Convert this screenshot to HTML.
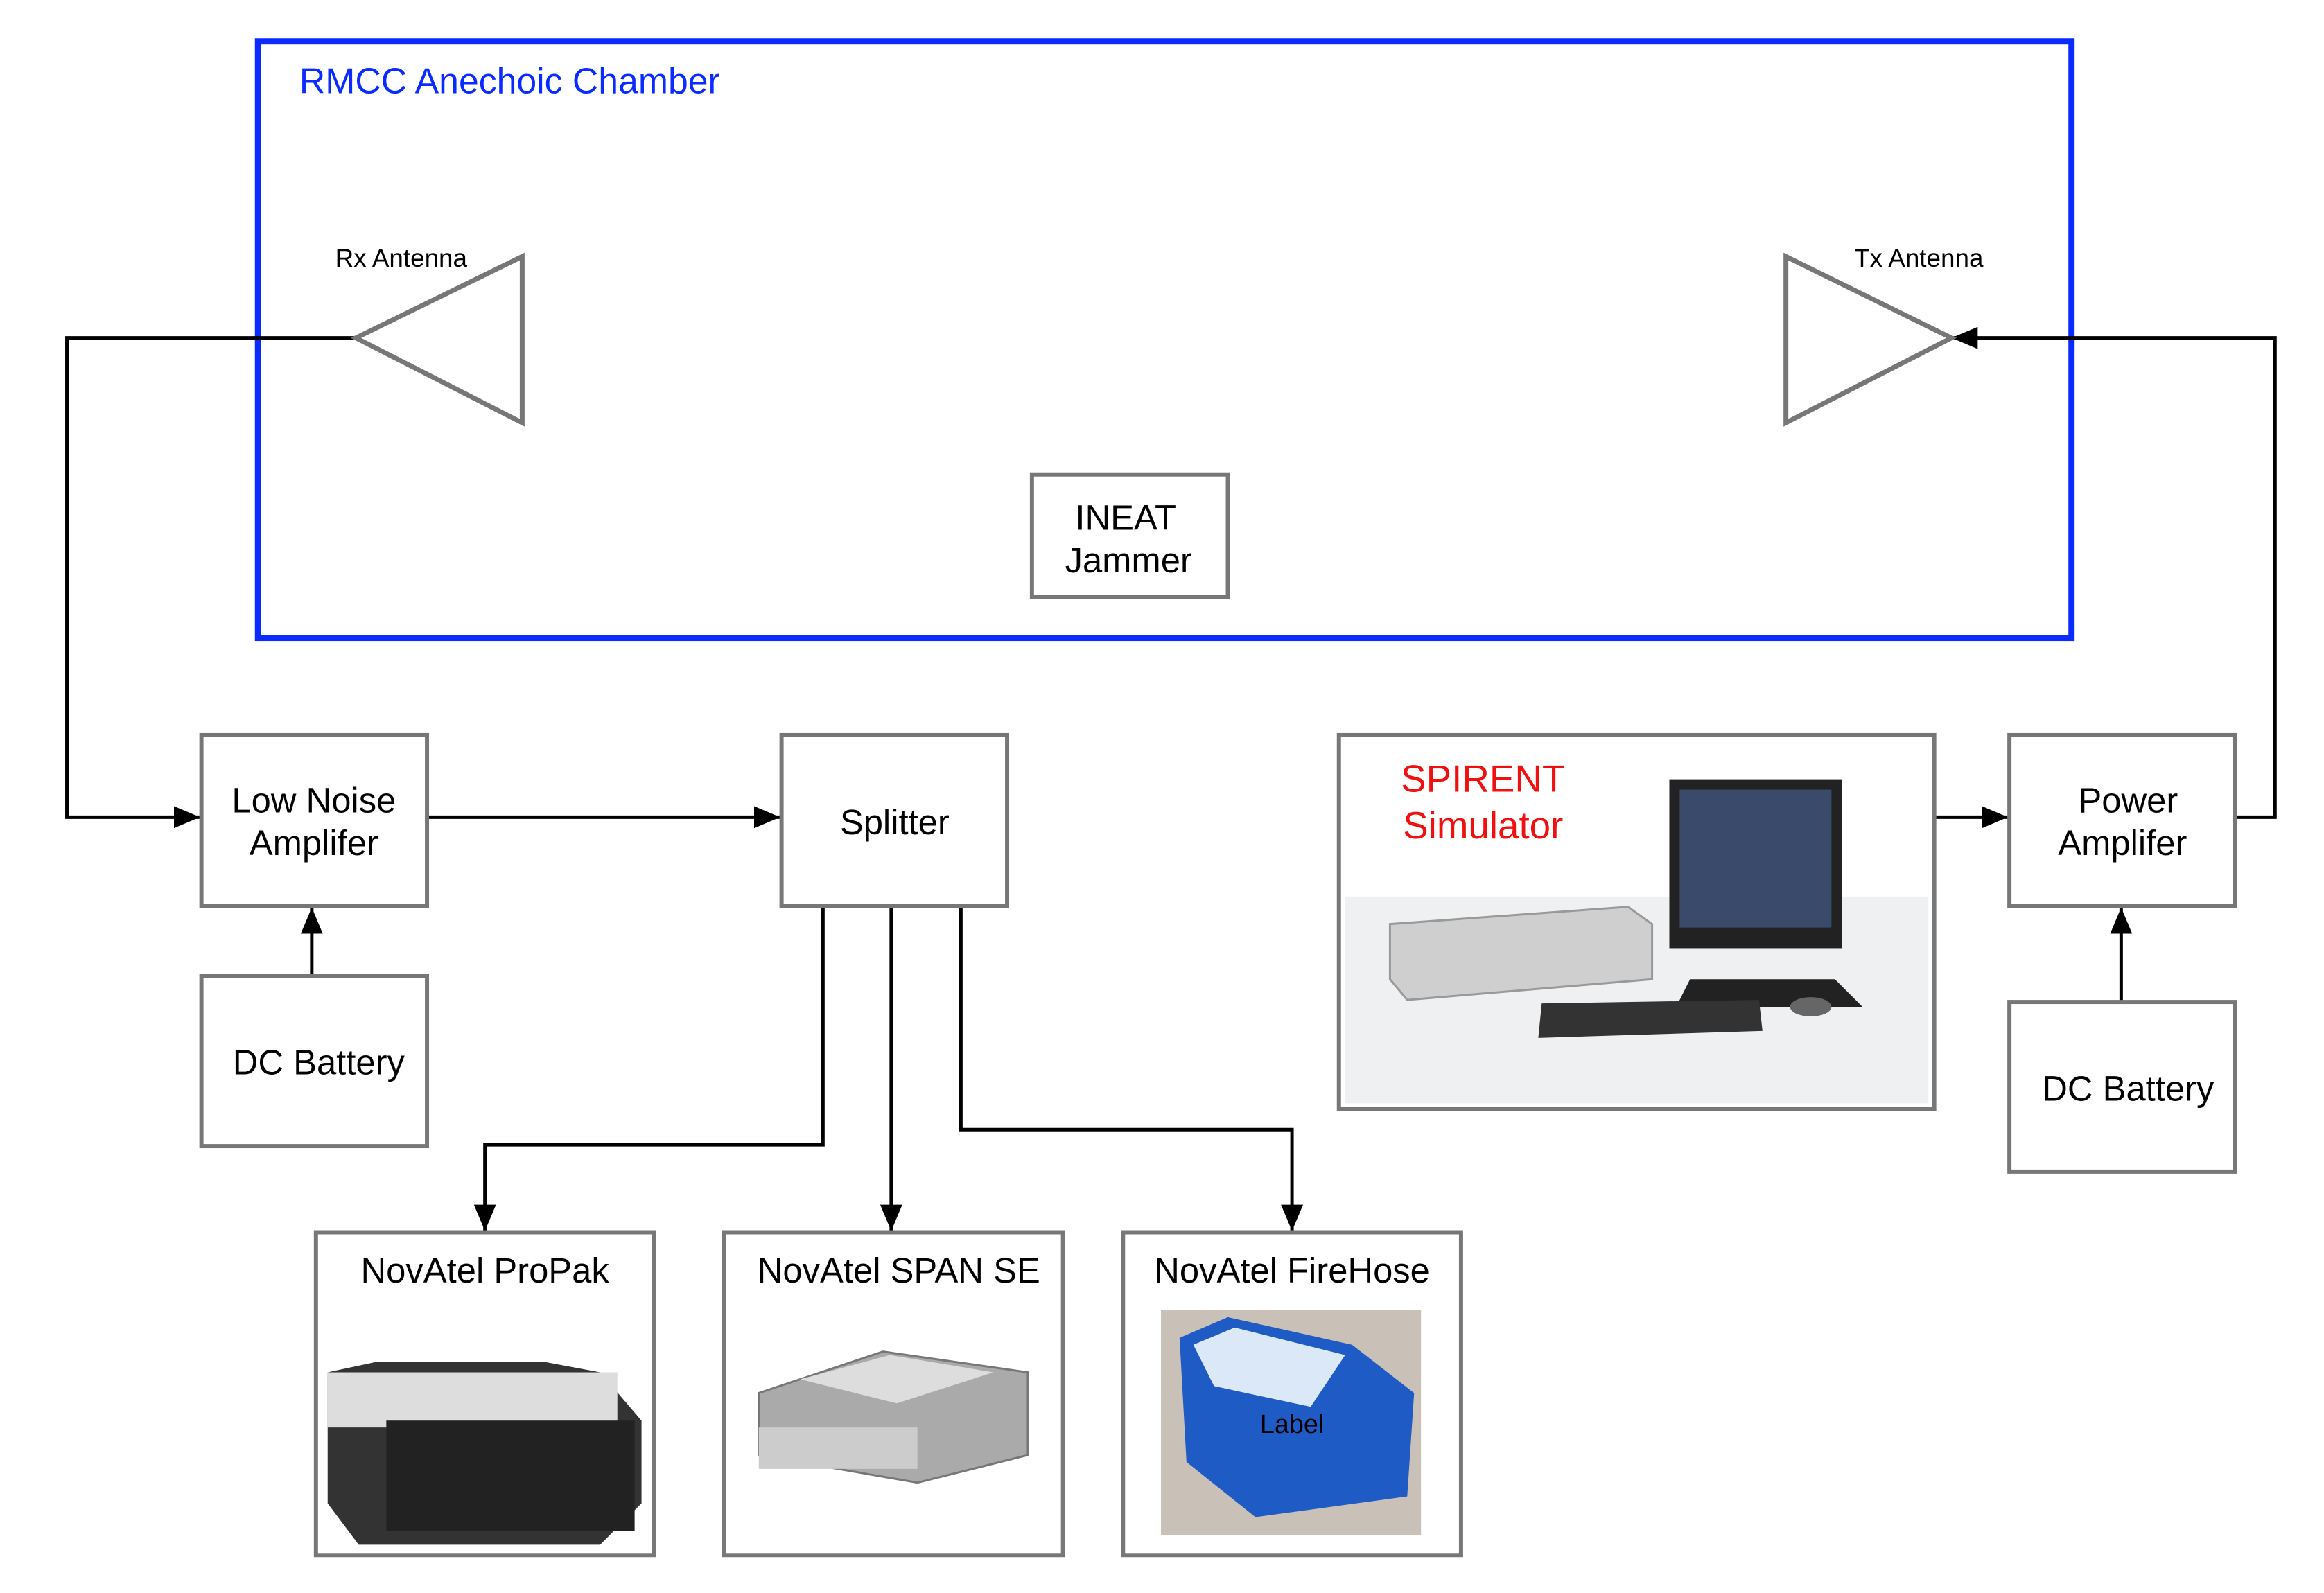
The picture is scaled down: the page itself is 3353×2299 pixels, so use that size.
<!DOCTYPE html>
<html><head><meta charset="utf-8"><style>body{margin:0;background:#fff}svg{display:block}</style></head>
<body>
<svg width="3353" height="2299" viewBox="0 0 3369 2310" preserveAspectRatio="xMinYMin meet" xmlns="http://www.w3.org/2000/svg" font-family="Liberation Sans, sans-serif">
<defs>
<marker id="b" markerWidth="38" markerHeight="32" refX="38" refY="16" orient="auto" markerUnits="userSpaceOnUse"><path d="M0,0 L38,16 L0,32 z" fill="#000"/></marker>
</defs>
<rect x="374" y="60" width="2629" height="865" fill="none" stroke="#0a2bff" stroke-width="9"/>
<text x="434" y="135" font-size="52" fill="#0a2bff">RMCC Anechoic Chamber</text>
<g fill="none" stroke="#000" stroke-width="5">
<polyline points="516,490 97,490 97,1185 290,1185" marker-end="url(#b)"/>
<polyline points="619,1185 1131,1185" marker-end="url(#b)"/>
<polyline points="452,1415 452,1316" marker-end="url(#b)"/>
<polyline points="2804,1185 2911,1185" marker-end="url(#b)"/>
<polyline points="3240,1185 3298,1185 3298,490 2829,490" marker-end="url(#b)"/>
<polyline points="3075,1453 3075,1316" marker-end="url(#b)"/>
<polyline points="1193,1314 1193,1660 703,1660 703,1785" marker-end="url(#b)"/>
<polyline points="1292,1314 1292,1785" marker-end="url(#b)"/>
<polyline points="1393,1314 1393,1638 1873,1638 1873,1785" marker-end="url(#b)"/>
</g>
<g fill="#fff" stroke="#777" stroke-width="7">
<polygon points="516,490 757,372 757,613"/>
<polygon points="2589,372 2589,613 2829,490"/>
</g>
<text x="486" y="387" font-size="37">Rx Antenna</text>
<text x="2688" y="387" font-size="37">Tx Antenna</text>
<g fill="#fff" stroke="#777" stroke-width="6">
<rect x="1496" y="688" width="284" height="178"/>
<rect x="292" y="1066" width="327" height="248"/>
<rect x="1133" y="1066" width="327" height="248"/>
<rect x="292" y="1415" width="327" height="247"/>
<rect x="1941" y="1066" width="863" height="542"/>
<rect x="2913" y="1066" width="327" height="248"/>
<rect x="2913" y="1453" width="327" height="246"/>
<rect x="458" y="1787" width="490" height="468"/>
<rect x="1049" y="1787" width="492" height="468"/>
<rect x="1628" y="1787" width="490" height="468"/>
</g>
<g font-size="51" text-anchor="middle" fill="#000">
<text x="1632" y="768">INEAT</text><text x="1636" y="830">Jammer</text>
<text x="455" y="1178">Low Noise</text><text x="455" y="1240">Amplifer</text>
<text x="1297" y="1210">Splitter</text>
<text x="462" y="1558">DC Battery</text>
<text x="3085" y="1178">Power</text><text x="3077" y="1240">Amplifer</text>
<text x="3085" y="1596">DC Battery</text>
<text x="703" y="1860">NovAtel ProPak</text>
<text x="1303" y="1860">NovAtel SPAN SE</text>
<text x="1873" y="1860">NovAtel FireHose</text>
</g>
<g font-size="55" text-anchor="middle" fill="#f01010">
<text x="2150" y="1148">SPIRENT</text><text x="2150" y="1216">Simulator</text>
</g>
<rect x="1950" y="1300" width="845" height="300" fill="#eef0f2"/>
<polygon points="2015,1340 2360,1315 2395,1340 2395,1420 2040,1450 2015,1420" fill="#cfcfcf" stroke="#999" stroke-width="3"/>
<rect x="2420" y="1130" width="250" height="245" fill="#222"/>
<rect x="2435" y="1145" width="220" height="200" fill="#3a4a6a"/>
<polygon points="2450,1420 2660,1420 2700,1460 2430,1460" fill="#222"/>
<polygon points="2235,1455 2550,1450 2555,1495 2230,1505" fill="#333"/>
<ellipse cx="2625" cy="1460" rx="30" ry="14" fill="#666"/>
<polygon points="475,1990 545,1975 790,1975 870,1990 930,2060 930,2180 870,2240 520,2240 475,2180" fill="#333"/>
<rect x="475" y="1990" width="420" height="80" fill="#ddd"/>
<rect x="560" y="2060" width="360" height="160" fill="#222"/>
<polygon points="1100,2020 1280,1960 1490,1990 1490,2110 1330,2150 1100,2110" fill="#aaa" stroke="#777" stroke-width="3"/>
<polygon points="1160,2000 1290,1965 1440,1990 1300,2035" fill="#ddd"/>
<rect x="1100" y="2070" width="230" height="60" fill="#ccc"/>
<rect x="1683" y="1900" width="377" height="326" fill="#c9c1b8"/>
<polygon points="1710,1940 1780,1910 1960,1950 2050,2020 2040,2170 1820,2200 1720,2120" fill="#1f5bc4"/>
<polygon points="1730,1950 1790,1925 1950,1965 1900,2040 1760,2010" fill="#dbe8f7"/>
<text x="1873" y="2078" font-size="38" text-anchor="middle">Label</text>
</svg>
</body></html>
